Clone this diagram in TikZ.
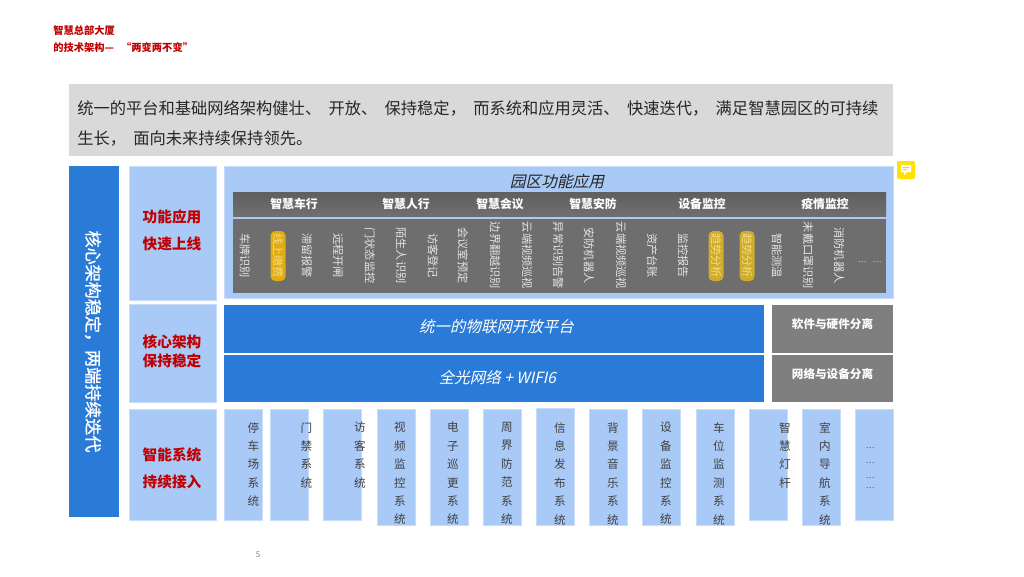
\documentclass[tikz,border=0pt]{standalone}
\usepackage{fontspec}
\setmainfont{Noto Sans CJK SC}
\newfontfamily\slantf[FakeSlant=0.22]{Noto Sans CJK SC}
\newfontfamily\semif[FakeBold=1.2]{Noto Sans CJK SC}
\definecolor{ltblue}{HTML}{A9C9F7}
\definecolor{edgeb}{HTML}{C9DDFA}
\definecolor{midblue}{HTML}{2A7BD8}
\definecolor{barA}{HTML}{5F5F5F}
\definecolor{barB}{HTML}{6E6E6E}
\definecolor{sideg}{HTML}{7F7F7F}
\definecolor{banner}{HTML}{D9D9D9}
\definecolor{goldc}{HTML}{E0AC12}
\definecolor{goldd}{HTML}{CFAC2A}
\definecolor{pilltx}{HTML}{F6DC80}
\definecolor{redt}{HTML}{C00000}
\definecolor{txt}{HTML}{404040}
\tikzset{
 box/.style={inner sep=0pt,outer sep=0pt,anchor=north west},
 lt/.style={box,fill=ltblue,draw=edgeb,line width=0.4pt},
 rot/.style={rotate=-90,text=white!90!black,font=\fontsize{8.4}{8.4}\selectfont,inner sep=0pt},
 pill/.style={rounded corners=3.5pt,draw=none,inner sep=0pt,outer sep=0pt,anchor=center,minimum width=11.25pt,minimum height=37.5pt},
 redl/.style={text=redt,font=\fontsize{11}{20.5}\selectfont\bfseries,align=center,inner sep=0pt},
 head/.style={text=white,font=\fontsize{8.9}{9}\selectfont\bfseries,inner sep=0pt},
 sidel/.style={text=white,font=\fontsize{8.7}{9}\selectfont\bfseries,inner sep=0pt},
 sys/.style={text=txt,font=\fontsize{8.7}{13.8}\selectfont,align=center,anchor=north,inner sep=0pt},
 plat/.style={text=white,font=\fontsize{11.6}{12}\selectfont\slantf,inner sep=0pt},
 dots/.style={text=txt,font=\fontsize{6}{6}\selectfont,inner sep=0pt},
 ttl/.style={anchor=west,text=redt,font=\fontsize{7.7}{8}\selectfont\bfseries,inner sep=0pt},
 bant/.style={anchor=west,text=black!85,font=\fontsize{12.2}{12}\selectfont,inner sep=0pt},
}
\newcommand{\rect}[6]{\node[#1,minimum width=#4*0.75pt,minimum height=#5*0.75pt] (#2) at #3 {#6};}
\begin{document}
\begin{tikzpicture}[x=0.75pt,y=-0.75pt]
\useasboundingbox (0,0) rectangle (1024,576);
\fill[white] (0,0) rectangle (1024,576);
% title
\node[ttl] (t1) at (53,31) {智慧总部大厦};
\node[ttl] (t2) at (53,47.5) {的技术架构—\hspace{0.7em}“两变两不变”};
% banner
\rect{box,fill=banner}{ban}{(69,84)}{824}{72}{}
\node[bant] (b1) at (77,108.5) {统一的平台和基础网络架构健壮、\hspace{0.45em}开放、\hspace{0.45em}保持稳定，\hspace{0.45em}而系统和应用灵活、\hspace{0.45em}快速迭代，\hspace{0.45em}满足智慧园区的可持续};
\node[bant] (b2) at (77,138.5) {生长，\hspace{0.45em}面向未来持续保持领先。};
% left
\rect{box,fill=midblue}{left}{(69,166)}{50}{351}{}
\node[rotate=-90,text=white,font=\fontsize{12.8}{12}\selectfont\semif,inner sep=0pt] (lefttx) at (93,341.5) {核心架构稳定，两端持续迭代};
% category
\rect{lt}{c1}{(129,166)}{87}{134}{}
\rect{lt}{c2}{(129,304.5)}{87}{98}{}
\rect{lt}{c3}{(129,409)}{87}{111}{}
\node[redl] (c1t) at (172,230.5) {功能应用\\快速上线};
\node[redl,font=\fontsize{11}{14.3}\selectfont\bfseries] (c2t) at (172,351.5) {核心架构\\保持稳定};
\node[redl] (c3t) at (172,468) {智能系统\\持续接入};
% app panel
\rect{lt}{app}{(224,166)}{669}{132}{}
\node[text=black!85,font=\fontsize{11.8}{12}\selectfont\slantf,inner sep=0pt] (appt) at (557,182) {园区功能应用};
\rect{box,top color=barA,bottom color=barA!90!white}{hdr}{(233,192)}{653}{24}{}
\rect{box,fill=barB}{bod}{(233,218.5)}{653}{74.5}{}
\foreach \xx/\tt in {294/智慧车行,406/智慧人行,500/智慧会议,593/智慧安防,702/设备监控,825/疫情监控}{
 \node[head] at (\xx,204) {\tt};
}
\node[pill,fill=goldc] (g1) at (278,256) {};
\node[pill,fill=goldd] (g2) at (716,256) {};
\node[pill,fill=goldd] (g3) at (747,256) {};
\foreach \xx/\tt in {245/车牌识别,307/滞留报警,338/远程开闸,370/门状态监控,401/陌生人识别,433/访客登记,463/会议室预定,495/边界翻越识别,527/云端视频巡视,558/异常识别告警,589/安防机器人,621/云端视频巡视,652/资产台账,683/监控报告,777/智能测温,808/未戴口罩识别,839/消防机器人}{
 \node[rot] at (\xx,255.5) {\tt};
}
\foreach \xx/\tt in {278/线上缴费,716/趋势分析,747/趋势分析}{
 \node[rot,text=pilltx] at (\xx,255.5) {\tt};
}
\node[dots,text=white!85!black] (d1) at (862,262) {…};
\node[dots,text=white!85!black] (d2) at (877,262) {…};
% platform
\rect{box,fill=midblue}{p1}{(224,305)}{540}{48}{}
\rect{box,fill=midblue}{p2}{(224,355)}{540}{46.5}{}
\node[plat] (p1t) at (496.5,327) {统一的物联网开放平台};
\node[plat] (p2t) at (497.5,378) {全光网络 + WIFI6};
\rect{box,fill=sideg}{s1}{(772,305)}{121}{48}{}
\rect{box,fill=sideg}{s2}{(772,355)}{121}{47}{}
\node[sidel] (s1t) at (832.5,324.5) {软件与硬件分离};
\node[sidel] (s2t) at (832.5,374.5) {网络与设备分离};
% systems
\rect{lt}{a1}{(224,409)}{38}{111}{}
\rect{lt}{a2}{(270,409)}{38}{111}{}
\rect{lt}{a3}{(323.5,409)}{38}{111}{}
\rect{lt}{a4}{(377,409)}{38}{116}{}
\rect{lt}{a5}{(430,409)}{38}{116}{}
\rect{lt}{a6}{(483,409)}{38}{116}{}
\rect{lt}{a7}{(536,408)}{38}{117}{}
\rect{lt}{a8}{(589,409)}{38}{116}{}
\rect{lt}{a9}{(642,409)}{38}{116}{}
\rect{lt}{a10}{(696,409)}{38}{116}{}
\rect{lt}{a11}{(749,409)}{38}{111}{}
\rect{lt}{a12}{(802,409)}{38}{116}{}
\rect{lt}{a13}{(855,409)}{38}{111}{}
\node[sys] (y1) at (253.5,422) {停\\车\\场\\系\\统};
\begin{scope}\clip (290,410) rectangle (312,525);\node[sys] (y2) at (306.5,422) {门\\禁\\系\\统};\end{scope}
\begin{scope}\clip (345,410) rectangle (366,525);\node[sys] (y3) at (360,422) {访\\客\\系\\统};\end{scope}
\node[sys] (y4) at (400,422) {视\\频\\监\\控\\系\\统};
\node[sys] (y5) at (453,422) {电\\子\\巡\\更\\系\\统};
\node[sys] (y6) at (507,422) {周\\界\\防\\范\\系\\统};
\node[sys] (y7) at (560,422) {信\\息\\发\\布\\系\\统};
\node[sys] (y8) at (613,422) {背\\景\\音\\乐\\系\\统};
\node[sys] (y9) at (666,422) {设\\备\\监\\控\\系\\统};
\node[sys] (y10) at (719,422) {车\\位\\监\\测\\系\\统};
\begin{scope}\clip (770,410) rectangle (791,525);\node[sys] (y11) at (785,422) {智\\慧\\灯\\杆};\end{scope}
\node[sys] (y12) at (825,422) {室\\内\\导\\航\\系\\统};
\node[dots] (e1) at (870,448) {…};
\node[dots] (e2) at (870,463) {…};
\node[dots] (e3) at (870,478) {…};
\node[dots] (e4) at (870,488) {…};
% page number
\node[text=black!50,font=\fontsize{6}{6}\selectfont,inner sep=0pt] (pg) at (258,555) {5};
% comment icon
\rect{box,fill=yellow!85!orange,rounded corners=1pt}{ico}{(897,161)}{18}{18}{}
\fill[white] (901,165) rectangle (911,172) (904,172) -- (907,172) -- (904,175) -- cycle;
\fill[yellow!70!orange] (902.5,167) rectangle (909.5,168) (902.5,169) rectangle (907,170);
\end{tikzpicture}
\end{document}
